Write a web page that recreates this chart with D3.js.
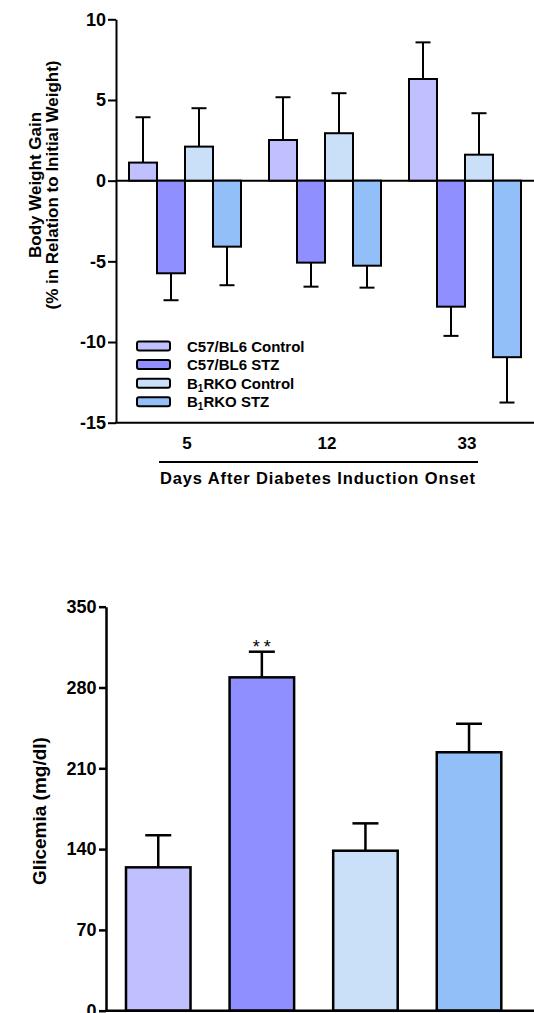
<!DOCTYPE html>
<html>
<head>
<meta charset="utf-8">
<script src="https://cdn.jsdelivr.net/npm/d3@7"></script>
<style>
  html, body { margin: 0; padding: 0; background: #fff; }
  svg { display: block; font-family: "Liberation Sans", Arial, sans-serif; font-weight: bold; }
</style>
</head>
<body>
<svg id="chart" width="534" height="1013"></svg>
<script>
// Top panel: body weight gain (%) per day after diabetes onset
const days = ['5', '12', '33'];
const seriesNames = ['C57/BL6 Control', 'C57/BL6 STZ', 'B1RKO Control', 'B1RKO STZ'];
const seriesColors = ['#c0c0ff', '#8f8fff', '#cadff8', '#92bff8'];

const c57Control = [1.12, 2.52, 6.30];
const c57ControlErr = [2.81, 2.65, 2.27];
const c57Stz = [-5.74, -5.08, -7.81];
const c57StzErr = [1.67, 1.49, 1.81];
const b1rkoControl = [2.11, 2.94, 1.61];
const b1rkoControlErr = [2.38, 2.48, 2.57];
const b1rkoStz = [-4.09, -5.27, -10.94];
const b1rkoStzErr = [2.39, 1.36, 2.81];

const weightTicks = [-15, -10, -5, 0, 5, 10];

// Bottom panel: glicemia (mg/dl)
const glicemia = [124.2, 288.8, 138.6, 223.9];
const glicemiaErr = [27.8, 22.2, 23.7, 24.7];
const glicemiaStars = ['', '**', '', ''];
const glicemiaTicks = [0, 70, 140, 210, 280, 350];

const svg = d3.select('#chart');

// ---------- top chart ----------
const weightSeries = [
  { values: c57Control, err: c57ControlErr },
  { values: c57Stz, err: c57StzErr },
  { values: b1rkoControl, err: b1rkoControlErr },
  { values: b1rkoStz, err: b1rkoStzErr }
];

const topAxisX = 116;
const y1 = d3.scaleLinear().domain([-15, 10]).range([422.7, 19.3]);
const x1 = d3.scaleBand().domain(days).range([115, 535]).paddingInner(0.2).paddingOuter(0.1);
const xs1 = d3.scaleBand().domain(d3.range(4)).range([0, x1.bandwidth()]);

const topG = svg.append('g');

// flatten data for drawing
const weightData = [];
days.forEach((d, i) => {
  weightSeries.forEach((s, k) => {
    weightData.push({ day: d, k, v: s.values[i], e: s.err[i] });
  });
});

// error bars (only away from zero)
const capW1 = 15;
const eb1 = topG.append('g').attr('stroke', '#000').attr('stroke-width', 2);
weightData.forEach(d => {
  const cx = x1(d.day) + xs1(d.k) + xs1.bandwidth() / 2;
  const end = d.v >= 0 ? d.v + d.e : d.v - d.e;
  eb1.append('line').attr('x1', cx).attr('x2', cx).attr('y1', y1(d.v)).attr('y2', y1(end));
  eb1.append('line').attr('x1', cx - capW1 / 2).attr('x2', cx + capW1 / 2).attr('y1', y1(end)).attr('y2', y1(end));
});

// zero line
topG.append('line')
  .attr('x1', topAxisX).attr('x2', 534)
  .attr('y1', y1(0)).attr('y2', y1(0))
  .attr('stroke', '#000').attr('stroke-width', 2);

// bars
topG.append('g').selectAll('rect')
  .data(weightData)
  .join('rect')
  .attr('x', d => x1(d.day) + xs1(d.k))
  .attr('width', xs1.bandwidth())
  .attr('y', d => y1(Math.max(0, d.v)))
  .attr('height', d => Math.abs(y1(d.v) - y1(0)))
  .attr('fill', d => seriesColors[d.k])
  .attr('stroke', '#000')
  .attr('stroke-width', 2);

// y axis (plain hyphen for negatives, like the original)
const yAxis1 = topG.append('g')
  .attr('transform', `translate(${topAxisX},0)`)
  .call(d3.axisLeft(y1).tickValues(weightTicks).tickFormat(d => String(d))
    .tickSize(8).tickSizeOuter(0).tickPadding(2));
yAxis1.selectAll('path, line').attr('stroke', '#000').attr('stroke-width', 2);
yAxis1.selectAll('text').attr('font-size', 18).attr('font-weight', 'bold').attr('fill', '#000')
  .attr('font-family', '"Liberation Sans", Arial, sans-serif');

// x axis (bottom line at -15)
topG.append('line')
  .attr('x1', topAxisX - 1).attr('x2', 534)
  .attr('y1', y1(-15)).attr('y2', y1(-15))
  .attr('stroke', '#000').attr('stroke-width', 2);

topG.append('g').selectAll('text')
  .data(days)
  .join('text')
  .attr('x', d => x1(d) + x1.bandwidth() / 2 + 2)
  .attr('y', 449)
  .attr('text-anchor', 'middle')
  .attr('font-size', 17)
  .text(d => d);

topG.append('line')
  .attr('x1', 159).attr('x2', 478).attr('y1', 462).attr('y2', 462)
  .attr('stroke', '#000').attr('stroke-width', 2);

topG.append('text')
  .attr('x', 160).attr('y', 484)
  .attr('font-size', 16.5)
  .attr('textLength', 315).attr('lengthAdjust', 'spacing')
  .text('Days After Diabetes Induction Onset');

// y title
const yt1 = topG.append('text')
  .attr('transform', 'translate(0,185) rotate(-90)')
  .attr('text-anchor', 'middle')
  .attr('font-size', 17);
yt1.append('tspan').attr('x', 0).attr('y', 41).text('Body Weight Gain');
yt1.append('tspan').attr('x', 0).attr('y', 58).text('(% in Relation to Initial Weight)');

// legend
const legend = topG.append('g').attr('transform', 'translate(137,346)');
seriesNames.forEach((name, i) => {
  const row = legend.append('g').attr('transform', `translate(0,${i * 18.6})`);
  row.append('rect')
    .attr('x', 0).attr('y', -4.5).attr('width', 33).attr('height', 9).attr('rx', 2)
    .attr('fill', seriesColors[i]).attr('stroke', '#000').attr('stroke-width', 2);
  const t = row.append('text').attr('x', 50).attr('y', 5.5).attr('font-size', 15);
  if (name.startsWith('B1')) {
    t.append('tspan').text('B');
    t.append('tspan').attr('font-size', 10).attr('dy', 3).text('1');
    t.append('tspan').attr('dy', -3).text(name.slice(2));
  } else {
    t.text(name);
  }
});

// ---------- bottom chart ----------
const botAxisX = 106;
const y2 = d3.scaleLinear().domain([0, 350]).range([1010.7, 606.7]);
const x2 = d3.scaleBand().domain(d3.range(4)).range([106, 521.3]).paddingInner(0.377).paddingOuter(0.193);

const botG = svg.append('g');

const capW2 = 26;
const eb2 = botG.append('g').attr('stroke', '#000').attr('stroke-width', 2.5);
glicemia.forEach((v, i) => {
  const cx = x2(i) + x2.bandwidth() / 2;
  const end = v + glicemiaErr[i];
  eb2.append('line').attr('x1', cx).attr('x2', cx).attr('y1', y2(v)).attr('y2', y2(end));
  eb2.append('line').attr('x1', cx - capW2 / 2).attr('x2', cx + capW2 / 2).attr('y1', y2(end)).attr('y2', y2(end));
});

botG.append('g').selectAll('rect')
  .data(glicemia)
  .join('rect')
  .attr('x', (d, i) => x2(i))
  .attr('width', x2.bandwidth())
  .attr('y', d => y2(d))
  .attr('height', d => y2(0) - y2(d))
  .attr('fill', (d, i) => seriesColors[i])
  .attr('stroke', '#000')
  .attr('stroke-width', 2.5);

botG.append('g').selectAll('text')
  .data(glicemiaStars)
  .join('text')
  .attr('x', (d, i) => x2(i) + x2.bandwidth() / 2 + 2)
  .attr('y', (d, i) => y2(glicemia[i] + glicemiaErr[i]) + 1)
  .attr('text-anchor', 'middle')
  .attr('font-size', 18)
  .attr('font-weight', 'normal')
  .attr('letter-spacing', 4)
  .text(d => d);

const yAxis2 = botG.append('g')
  .attr('transform', `translate(${botAxisX},0)`)
  .call(d3.axisLeft(y2).tickValues(glicemiaTicks).tickFormat(d => String(d))
    .tickSize(7).tickSizeOuter(0).tickPadding(2.5));
yAxis2.selectAll('path, line').attr('stroke', '#000').attr('stroke-width', 2.5);
yAxis2.selectAll('text').attr('font-size', 18).attr('font-weight', 'bold').attr('fill', '#000')
  .attr('font-family', '"Liberation Sans", Arial, sans-serif');

botG.append('line')
  .attr('x1', botAxisX - 1).attr('x2', 534)
  .attr('y1', y2(0)).attr('y2', y2(0))
  .attr('stroke', '#000').attr('stroke-width', 2.5);

botG.append('text')
  .attr('transform', 'translate(46,811) rotate(-90)')
  .attr('text-anchor', 'middle')
  .attr('font-size', 19)
  .text('Glicemia (mg/dl)');
</script>
</body>
</html>
